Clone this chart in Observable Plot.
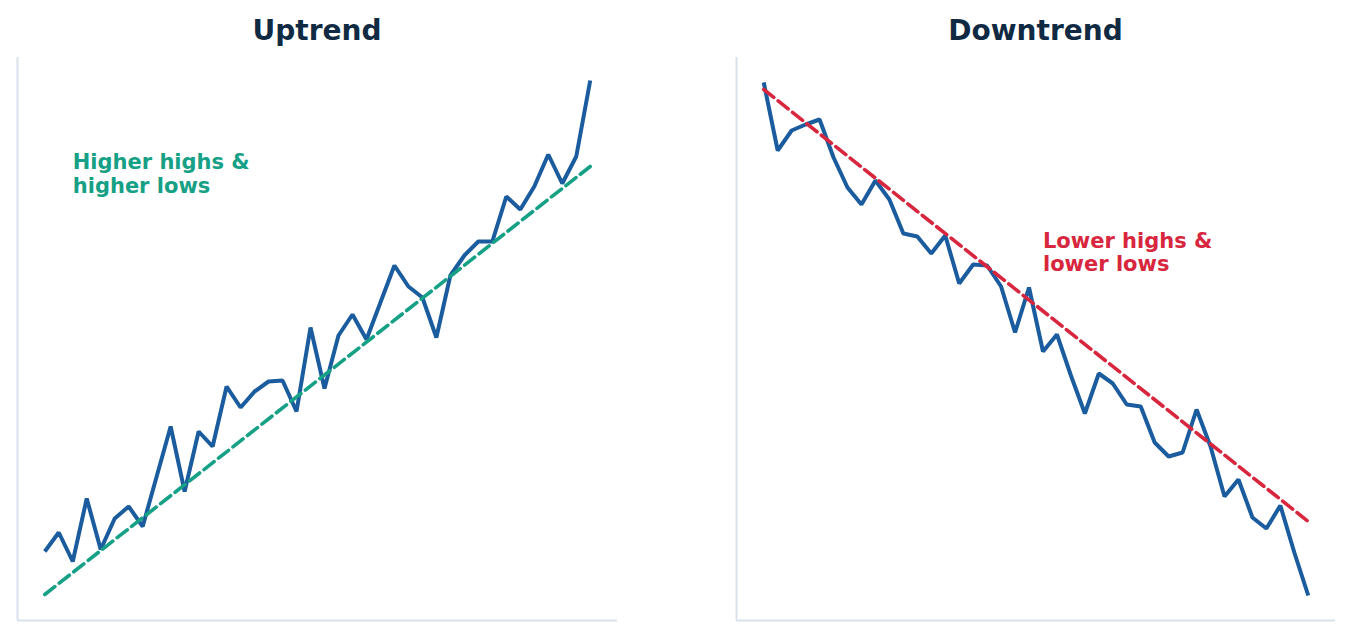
<!DOCTYPE html>
<html><head><meta charset="utf-8">
<script src="https://cdn.jsdelivr.net/npm/d3@7"></script>
<script src="https://cdn.jsdelivr.net/npm/@observablehq/plot@0.6"></script>
<style>
body{margin:0;background:#fff;}
#wrap{position:relative;width:1351px;height:637px;font-family:"DejaVu Sans",sans-serif;overflow:hidden;}
.title{position:absolute;top:17px;font-size:28px;font-weight:bold;color:#102a43;line-height:28px;transform:translateX(-50%);white-space:nowrap;}
.panel{position:absolute;top:57px;}
</style></head>
<body><div id="wrap"></div>
<script>
// ---- data (price in arbitrary units, one value per period) ----
const periods = d3.range(40);
const upPrices = [13.8,17.6,11.8,24.4,14.2,20.4,22.8,18.8,28.8,38.8,
  25.8,37.8,34.8,46.8,42.6,45.8,47.8,48.0,41.8,58.6,
  46.4,57.0,61.2,56.2,63.6,71.0,66.8,64.6,56.6,69.0,
  73.0,75.8,75.8,84.8,82.2,86.8,93.2,87.4,92.8,108.0];
const downPrices = [107.6,94.0,98.0,99.2,100.2,92.6,86.6,83.2,88.0,84.2,
  77.4,76.8,73.4,77.0,67.4,71.2,71.0,66.8,57.6,66.6,
  53.8,57.2,49.0,41.4,49.4,47.4,43.2,42.8,35.6,32.8,
  33.6,42.2,34.8,24.8,28.2,20.6,18.4,23.0,13.6,5.0];
const upTrendEnds = [5.2, 90.8];     // trend value at first and last period
const downTrendEnds = [106.2, 19.8];
const titles = ["Uptrend", "Downtrend"];
const notes = ["Higher highs &\nhigher lows", "Lower highs &\nlower lows"];
const notePos = [{x: 2.0, y: 93.5}, {x: 20.0, y: 77.8}];

const colors = {line: "#1a5c9e", up: "#16a085", down: "#d7263d", axis: "#d9e2ec"};
const xDomain = [-1.95, 40.95];
const yDomain = [0, 112.6];

const wrap = document.getElementById("wrap");

function panel(left, mLeft, mRight, prices, trendEnds, title, note, pos, trendColor) {
  const rows = periods.map((p, i) => ({p, v: prices[i]}));
  const trend = [{p: periods[0], v: trendEnds[0]}, {p: periods[periods.length - 1], v: trendEnds[1]}];
  const chart = Plot.plot({
    width: 675, height: 580,
    marginLeft: mLeft, marginRight: mRight, marginTop: 0, marginBottom: 17,
    x: {domain: xDomain, axis: null},
    y: {domain: yDomain, axis: null},
    style: {fontFamily: "DejaVu Sans", background: "transparent"},
    marks: [
      Plot.ruleX([xDomain[0]], {stroke: colors.axis, strokeWidth: 2}),
      Plot.ruleY([yDomain[0]], {stroke: colors.axis, strokeWidth: 2}),
      Plot.line(rows, {x: "p", y: "v", stroke: colors.line, strokeWidth: 4, strokeLinejoin: "miter", strokeLinecap: "butt"}),
      Plot.line(trend, {x: "p", y: "v", stroke: trendColor, strokeWidth: 3.6, strokeDasharray: "12.8,5.6"}),
      Plot.text([{x: pos.x, y: pos.y, t: note}], {x: "x", y: "y", text: "t", textAnchor: "start", lineAnchor: "top",
        fill: trendColor, fontSize: 21, fontWeight: "bold", lineHeight: 1.1, fontFamily: "DejaVu Sans"})
    ]
  });
  chart.classList.add("panel");
  chart.style.left = left + "px";
  wrap.appendChild(chart);
  const t = document.createElement("div");
  t.className = "title";
  t.textContent = title;
  t.style.left = (left + mLeft + (675 - mLeft - mRight) / 2) + "px";
  wrap.appendChild(t);
}

panel(0, 17, 58, upPrices, upTrendEnds, titles[0], notes[0], notePos[0], colors.up);
panel(676, 60, 16, downPrices, downTrendEnds, titles[1], notes[1], notePos[1], colors.down);
</script>
</body></html>
